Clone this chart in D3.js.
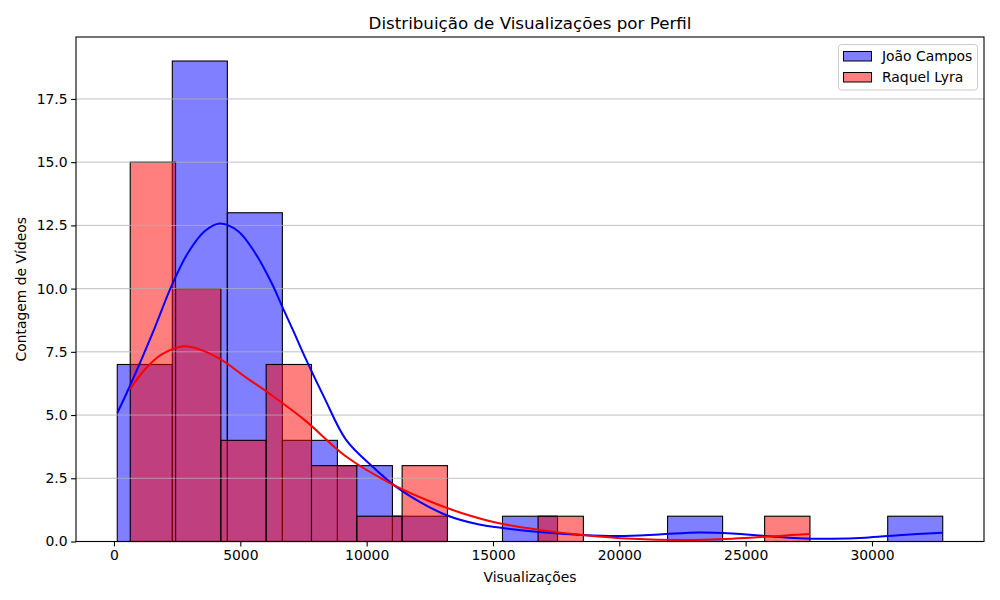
<!DOCTYPE html>
<html>
  <head>
    <meta charset="utf-8">
    <title>Distribuição de Visualizações por Perfil</title>
    <script src="https://cdn.jsdelivr.net/npm/d3@7"></script>
    <style>
      body { margin: 0; background: #fff; }
      svg text { font-family: "DejaVu Sans", sans-serif; fill: #000; }
    </style>
  </head>
  <body>
    <svg id="chart" width="1000" height="600"></svg>

    <script>
      // data
      // histogram counts, 15 bins each, spread evenly over each profile's range
      blueName = "João Campos";
      blueRange = [130, 32800];
      blueCounts = [7, 19, 13, 4, 3, 1, 0, 1, 0, 0, 1, 0, 0, 0, 1];

      redName = "Raquel Lyra";
      redRange = [643, 27545];
      redCounts = [15, 10, 4, 7, 3, 1, 3, 0, 0, 1, 0, 0, 0, 0, 1];

      // density curves (scaled to counts)
      blueKde = [
        [130, 5.08], [620, 6.13], [1613, 8.45], [2269, 10.09], [2925, 11.41],
        [3585, 12.27], [4150, 12.57], [4901, 12.28], [5561, 11.45], [6250, 10.2],
        [6640, 9.33], [7075, 8.38], [7605, 7.19], [8328, 5.68], [9186, 4.02], [10237, 2.96],
        [11162, 2.17], [12083, 1.58], [13138, 1.05], [14455, 0.67], [15245, 0.55],
        [16826, 0.38], [18538, 0.26], [19988, 0.22], [21569, 0.28], [23150, 0.36],
        [24467, 0.32], [25786, 0.22], [27103, 0.13], [28419, 0.11], [29739, 0.15],
        [31055, 0.25], [32800, 0.35]
      ];
      redKde = [
        [643, 6.03], [1213, 6.79], [1873, 7.39], [2794, 7.72], [3585, 7.52],
        [4245, 7.19], [5166, 6.53], [6221, 5.80], [7538, 4.81], [9186, 3.36],
        [10885, 2.33], [12466, 1.60], [13783, 1.12], [15245, 0.72], [16826, 0.46],
        [18538, 0.26], [20514, 0.11], [22490, 0.06], [24467, 0.11], [26443, 0.23],
        [27545, 0.30]
      ];

      xTicks = [0, 5000, 10000, 15000, 20000, 25000, 30000];
      yTicks = [0, 2.5, 5, 7.5, 10, 12.5, 15, 17.5];

      // layout
      svg = d3.select("#chart");
      margin = { left: 76, right: 16, top: 37, bottom: 58.5 };
      width = 1000 - margin.left - margin.right;
      height = 600 - margin.top - margin.bottom;

      function makeBins(range, counts) {
        var step = (range[1] - range[0]) / counts.length;
        return counts.map(function(c, i) {
          return { x0: range[0] + i * step, x1: range[0] + (i + 1) * step, count: c };
        });
      }
      blueBins = makeBins(blueRange, blueCounts);
      redBins = makeBins(redRange, redCounts);

      lo = Math.min(blueRange[0], redRange[0]);
      hi = Math.max(blueRange[1], redRange[1]);
      pad = (hi - lo) * 0.05;
      x = d3.scaleLinear()
        .domain([lo - pad, hi + pad])
        .range([0, width]);

      yMax = d3.max(blueCounts.concat(redCounts)) * 1.05;
      y = d3.scaleLinear()
        .domain([0, yMax])
        .range([height, 0]);

      g = svg.append("g")
        .attr("transform", "translate(" + margin.left + "," + margin.top + ")");

      // bars
      function drawBars(bins, fill) {
        g.append("g")
          .selectAll("rect")
            .data(bins.filter(function(d) { return d.count > 0; }))
          .enter().append("rect")
            .attr("x", function(d) { return x(d.x0); })
            .attr("width", function(d) { return x(d.x1) - x(d.x0); })
            .attr("y", function(d) { return y(d.count); })
            .attr("height", function(d) { return y(0) - y(d.count); })
            .attr("fill", fill)
            .attr("fill-opacity", 0.5)
            .attr("stroke", "#000")
            .attr("stroke-width", 1.1);
      }
      drawBars(blueBins, "blue");
      drawBars(redBins, "red");

      // horizontal grid on top of the bars
      g.append("g")
        .selectAll("line")
          .data(yTicks)
        .enter().append("line")
          .attr("x1", 0)
          .attr("x2", width)
          .attr("y1", function(d) { return y(d); })
          .attr("y2", function(d) { return y(d); })
          .attr("stroke", "#b0b0b0")
          .attr("stroke-opacity", 0.8)
          .attr("stroke-width", 1);

      // density lines
      line = d3.line()
        .x(function(d) { return x(d[0]); })
        .y(function(d) { return y(d[1]); })
        .curve(d3.curveCatmullRom.alpha(0.5));

      g.append("path")
        .datum(blueKde)
        .attr("d", line)
        .attr("fill", "none")
        .attr("stroke", "blue")
        .attr("stroke-width", 2);

      g.append("path")
        .datum(redKde)
        .attr("d", line)
        .attr("fill", "none")
        .attr("stroke", "red")
        .attr("stroke-width", 2);

      // axes
      xAxis = d3.axisBottom(x)
        .tickValues(xTicks)
        .tickFormat(d3.format("d"))
        .tickSizeInner(4.9)
        .tickSizeOuter(0)
        .tickPadding(3.5);
      yAxis = d3.axisLeft(y)
        .tickValues(yTicks)
        .tickFormat(d3.format(".1f"))
        .tickSizeInner(4.9)
        .tickSizeOuter(0)
        .tickPadding(3.5);

      gx = g.append("g")
        .attr("transform", "translate(0," + height + ")")
        .call(xAxis);
      gy = g.append("g")
        .call(yAxis);
      [gx, gy].forEach(function(a) {
        a.select(".domain").remove();
        a.selectAll("text")
          .style("font-family", "DejaVu Sans, sans-serif")
          .style("font-size", "13.9px");
        a.selectAll(".tick line").attr("stroke", "#000").attr("stroke-width", 1.1);
      });

      // frame
      g.append("rect")
        .attr("width", width)
        .attr("height", height)
        .attr("fill", "none")
        .attr("stroke", "#000")
        .attr("stroke-width", 1.1);

      // titles
      svg.append("text")
        .attr("x", margin.left + width / 2)
        .attr("y", 29)
        .attr("text-anchor", "middle")
        .style("font-size", "16.7px")
        .text("Distribuição de Visualizações por Perfil");

      svg.append("text")
        .attr("x", margin.left + width / 2)
        .attr("y", 582)
        .attr("text-anchor", "middle")
        .style("font-size", "13.9px")
        .text("Visualizações");

      svg.append("text")
        .attr("transform", "translate(26," + (margin.top + height / 2) + ") rotate(-90)")
        .attr("text-anchor", "middle")
        .style("font-size", "13.9px")
        .text("Contagem de Vídeos");

      // legend
      legend = svg.append("g")
        .attr("transform", "translate(838.5,44.5)");
      legend.append("rect")
        .attr("width", 139)
        .attr("height", 45.5)
        .attr("rx", 3)
        .attr("fill", "#fff")
        .attr("fill-opacity", 0.8)
        .attr("stroke", "#cccccc")
        .attr("stroke-width", 1);
      legendItems = legend.selectAll(".item")
        .data([{ name: blueName, colour: "blue" }, { name: redName, colour: "red" }])
        .enter().append("g")
          .attr("transform", function(d, i) { return "translate(0," + (i * 21) + ")"; });
      legendItems.append("rect")
        .attr("x", 5)
        .attr("y", 7)
        .attr("width", 28)
        .attr("height", 9.5)
        .attr("fill", function(d) { return d.colour; })
        .attr("fill-opacity", 0.5)
        .attr("stroke", "#000")
        .attr("stroke-width", 1);
      legendItems.append("text")
        .attr("x", 43.5)
        .attr("y", 16.5)
        .style("font-size", "13.9px")
        .text(function(d) { return d.name; });
    </script>
  </body>
</html>
